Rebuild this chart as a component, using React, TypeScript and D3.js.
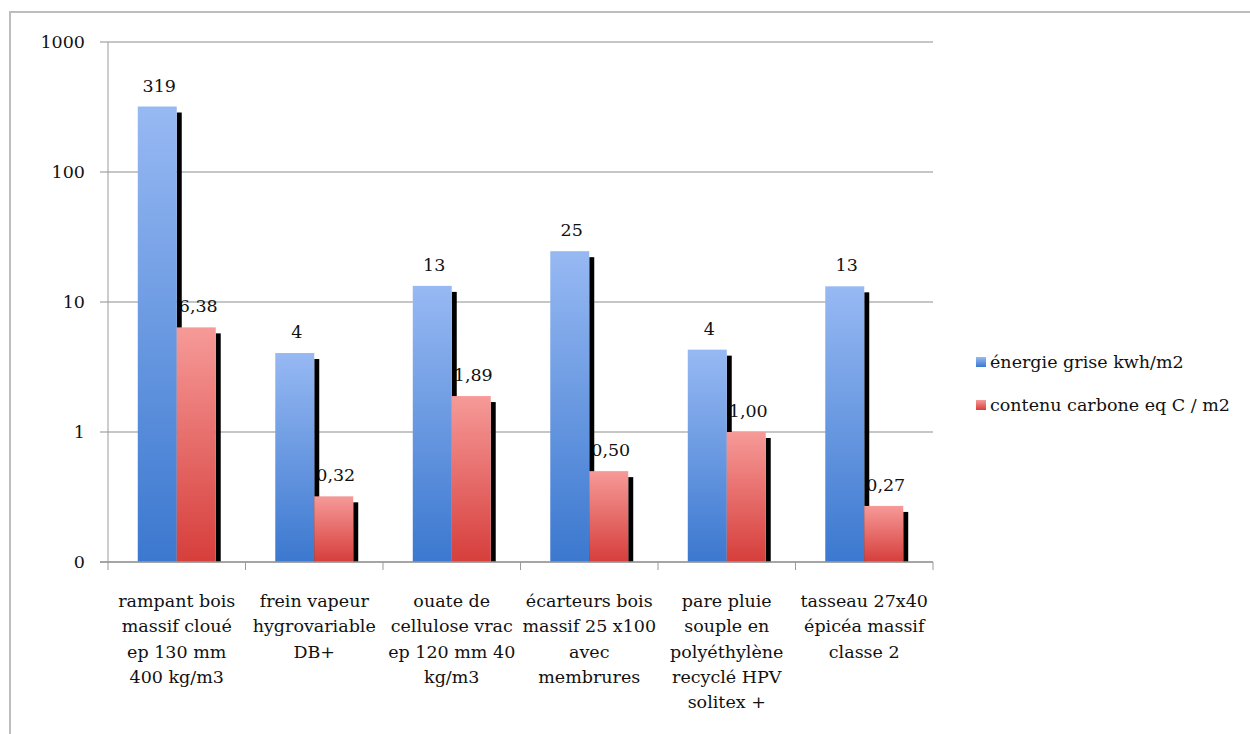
import React from "react";
import * as d3 from "d3";

const categories: string[][] = [
  ["rampant bois", "massif cloué", "ep 130 mm", "400 kg/m3"],
  ["frein vapeur", "hygrovariable", "DB+"],
  ["ouate de", "cellulose vrac", "ep 120 mm 40", "kg/m3"],
  ["écarteurs bois", "massif 25 x100", "avec", "membrures"],
  ["pare pluie", "souple en", "polyéthylène", "recyclé HPV", "solitex +"],
  ["tasseau 27x40", "épicéa massif", "classe 2"],
];
const seriesNames = ["énergie grise kwh/m2", "contenu carbone eq C / m2"];
const energie = [319, 4.05, 13.3, 24.6, 4.3, 13.2];
const carbone = [6.38, 0.32, 1.89, 0.5, 1.0, 0.27];
const tickValues = [0.1, 1, 10, 100, 1000];
const tickLabels = ["0", "1", "10", "100", "1000"];

const W = 1250;
const H = 734;
const plot = { left: 108, right: 933, top: 42, bottom: 562 };
const font = "'DejaVu Serif', serif";
const fs = 17.5;

export default function App() {
  const x = d3
    .scaleBand<number>()
    .domain(d3.range(categories.length))
    .range([plot.left, plot.right])
    .paddingInner(0.433)
    .paddingOuter(0.2165);
  const xs = d3.scaleBand<number>().domain([0, 1]).range([0, x.bandwidth()]).padding(0);
  const y = d3.scaleLog().domain([0.1, 1000]).range([plot.bottom, plot.top]);
  const series = [energie, carbone];
  const fmt = [(v: number) => d3.format("d")(Math.round(v)), (v: number) => d3.format(".2f")(v).replace(".", ",")];
  const step = x.step();

  return (
    <svg width={W} height={H} style={{ display: "block", position: "absolute", left: 0, top: 0 }}>
      <defs>
        <linearGradient id="gBlue" x1="0" y1="0" x2="0" y2="1">
          <stop offset="0" stopColor="#97b9f3" />
          <stop offset="1" stopColor="#3b78cf" />
        </linearGradient>
        <linearGradient id="gRed" x1="0" y1="0" x2="0" y2="1">
          <stop offset="0" stopColor="#f69a98" />
          <stop offset="1" stopColor="#d63e3b" />
        </linearGradient>
      </defs>
      <rect x={0} y={0} width={W} height={H} fill="#fff" />
      <rect x={10} y={12} width={W + 20} height={H + 20} fill="none" stroke="#bdbdbd" strokeWidth={2} />

      {tickValues.map((t, i) => (
        <line key={"g" + i} x1={plot.left - 8} x2={plot.right} y1={y(t)} y2={y(t)} stroke="#b3b3b3" strokeWidth={1.5} />
      ))}
      {tickValues.map((t, i) => (
        <text key={"yl" + i} x={85} y={y(t)} dy="0.35em" textAnchor="end" fontFamily={font} fontSize={fs} fill="#111">
          {tickLabels[i]}
        </text>
      ))}
      <line x1={plot.left} x2={plot.left} y1={plot.top} y2={plot.bottom} stroke="#9a9a9a" strokeWidth={1} />
      {d3.range(categories.length + 1).map((i) => (
        <line key={"ct" + i} x1={plot.left + i * step} x2={plot.left + i * step} y1={plot.bottom} y2={plot.bottom + 8} stroke="#9a9a9a" strokeWidth={1} />
      ))}

      {series.map((vals, s) =>
        vals.map((v, i) => (
          <text
            key={"vl" + s + "-" + i}
            x={(x(i) as number) + (xs(s) as number) + xs.bandwidth() / 2 + 2}
            y={y(v) - 15}
            textAnchor="middle"
            fontFamily={font}
            fontSize={fs}
            fill="#111"
          >
            {fmt[s](v)}
          </text>
        ))
      )}

      {categories.map((_, i) => (
        <g key={"b" + i}>
          {series.map((vals, s) => {
            const bx = (x(i) as number) + (xs(s) as number);
            const top = y(vals[i]);
            const bw = xs.bandwidth();
            return (
              <g key={s}>
                <rect x={bx + bw} y={top + 6} width={5} height={plot.bottom - top - 6} fill="#000" />
                <rect x={bx} y={top} width={bw} height={plot.bottom - top} fill={s === 0 ? "url(#gBlue)" : "url(#gRed)"} />
              </g>
            );
          })}
        </g>
      ))}

      <line x1={plot.left - 8} x2={plot.right} y1={plot.bottom} y2={plot.bottom} stroke="#9a9a9a" strokeWidth={1.5} />

      {categories.map((lines, i) => (
        <text key={"cl" + i} textAnchor="middle" fontFamily={font} fontSize={fs} fill="#111">
          {lines.map((ln, k) => (
            <tspan key={k} x={(x(i) as number) + x.bandwidth() / 2} y={607 + k * 25.3}>
              {ln}
            </tspan>
          ))}
        </text>
      ))}

      {seriesNames.map((n, s) => (
        <g key={"lg" + s} transform={`translate(976, ${362 + s * 43})`}>
          <rect x={0} y={-5} width={10} height={10} fill={s === 0 ? "url(#gBlue)" : "url(#gRed)"} />
          <text x={14} y={0} dy="0.35em" fontFamily={font} fontSize={fs} fill="#111">
            {n}
          </text>
        </g>
      ))}
    </svg>
  );
}
